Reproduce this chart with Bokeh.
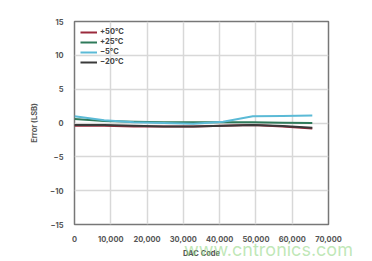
from bokeh.plotting import figure
from bokeh.models import Legend, LegendItem, Div, FixedTicker, NumeralTickFormatter, Range1d
from bokeh.layouts import column
from bokeh.embed import file_html
from bokeh.resources import INLINE

codes = [0, 8192, 16384, 24576, 32768, 40960, 49152, 57344, 65535]
err_p50 = [-0.4, -0.4, -0.5, -0.5, -0.5, -0.4, -0.3, -0.5, -0.8]
err_p25 = [0.6, 0.3, 0.2, 0.1, 0.1, 0.1, 0.1, 0.05, 0.0]
err_m5 = [1.0, 0.4, 0.1, 0.0, -0.1, 0.2, 1.0, 1.05, 1.1]
err_m20 = [-0.3, -0.3, -0.4, -0.5, -0.5, -0.4, -0.3, -0.45, -0.7]
series_names = ["+50°C", "+25°C", "\u22125°C", "\u221220°C"]
series_colors = ["#9b2a3c", "#2f7a5a", "#5bbad6", "#3a3a3a"]
x_ticks = [0, 10000, 20000, 30000, 40000, 50000, 60000, 70000]
y_ticks = [-15, -10, -5, 0, 5, 10, 15]
watermark = "www.cntronics.com"

FONT = "Inter"
p = figure(width=372, height=261, output_backend="svg", toolbar_location=None,
           x_range=Range1d(0, 70000), y_range=Range1d(-15, 15),
           min_border_left=74, min_border_right=44, min_border_top=21, min_border_bottom=37)
p.outline_line_color = "#777777"
p.outline_line_width = 1.5
p.background_fill_color = "white"
p.border_fill_color = "white"

p.xaxis.ticker = FixedTicker(ticks=x_ticks)
p.yaxis.ticker = FixedTicker(ticks=y_ticks)
p.xaxis.formatter = NumeralTickFormatter(format="0,0")
for ax in (p.xaxis, p.yaxis):
    ax.axis_line_color = None
    ax.major_tick_line_color = None
    ax.minor_tick_line_color = None
    ax.major_label_text_font = FONT
    ax.major_label_text_font_size = "7.5px"
    ax.major_label_text_font_style = "bold"
    ax.major_label_text_color = "#555555"
    ax.axis_label_text_font = FONT
    ax.axis_label_text_font_size = "7.5px"
    ax.axis_label_text_font_style = "bold"
    ax.axis_label_text_color = "#555555"
p.xaxis.axis_label = "DAC Code"
p.yaxis.axis_label = "Error (LSB)"
p.xaxis.major_label_standoff = 5
p.yaxis.major_label_standoff = 5
p.xaxis.axis_label_standoff = 4
p.yaxis.axis_label_standoff = 8

p.xgrid.grid_line_color = "#d8d8d8"
p.ygrid.grid_line_color = "#d8d8d8"
p.xgrid.grid_line_width = 1.5
p.ygrid.grid_line_width = 1.5

items = []
for name, ys, c in zip(series_names, [err_p50, err_p25, err_m5, err_m20], series_colors):
    r = p.line(codes, ys, line_color=c, line_width=2)
    items.append(LegendItem(label=name, renderers=[r]))

leg = Legend(items=items, location="top_left", background_fill_alpha=0, border_line_color=None,
             label_text_font=FONT, label_text_font_size="7.5px", label_text_font_style="bold",
             label_text_color="#444444",
             glyph_width=17, glyph_height=6, label_height=6, spacing=1, padding=2, margin=6,
             label_standoff=3)
p.add_layout(leg)

wm = Div(text=watermark, margin=(-22, 0, 0, 184), width=186, height=22,
         styles={"font-family": FONT, "font-size": "18px", "color": "rgba(150,215,135,0.6)",
                 "line-height": "22px", "pointer-events": "none", "white-space": "nowrap"})

layout = column(p, wm, spacing=0)
open("out.html", "w").write(file_html(layout, INLINE))
